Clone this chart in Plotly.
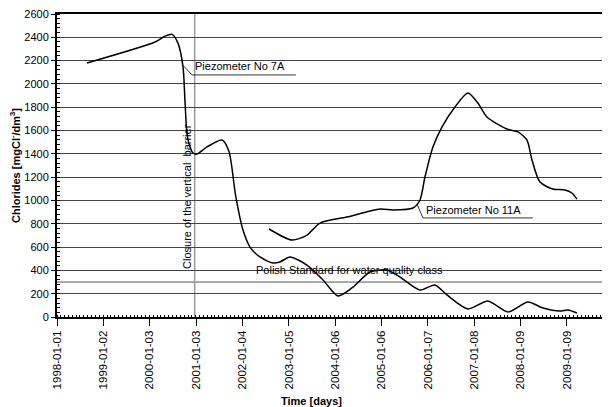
import plotly.graph_objects as go

# ---- data ----
dates_7a = ["1998-08-26", "2000-02-14", "2000-05-03", "2000-06-27", "2000-08-13", "2000-09-22",
            "2000-10-07", "2000-10-23", "2000-11-16", "2000-12-10", "2001-01-10", "2001-03-30",
            "2001-07-27", "2001-09-20", "2001-11-10", "2002-01-05",
            "2002-03-05", "2002-05-22", "2002-09-02", "2002-10-27", "2003-01-14", "2003-05-28",
            "2003-10-02", "2004-01-28", "2004-05-26", "2004-10-07", "2005-02-18", "2005-06-01",
            "2005-11-05", "2006-03-04", "2006-06-07", "2006-11-19", "2007-04-26", "2007-10-01",
            "2008-03-07", "2008-07-04", "2008-11-15", "2009-01-17", "2009-03-29"]
vals_7a = [2180, 2360, 2410, 2425, 2350, 2145,
           1862, 1579, 1459, 1407, 1398, 1459,
           1519, 1420, 1050, 760,
           600, 515, 463, 472, 515, 446,
           318, 180, 257, 386, 403, 343,
           232, 275, 189, 69, 137, 43,
           129, 77, 51, 60, 34]

dates_11a = ["2002-08-02", "2003-01-30", "2003-05-29", "2003-09-08", "2004-04-08", "2004-12-25",
             "2005-04-06", "2005-09-11", "2005-11-06", "2005-12-15", "2006-02-16", "2006-04-28",
             "2006-08-09", "2006-11-19", "2007-02-06", "2007-04-18", "2007-09-23", "2007-12-19",
             "2008-02-28", "2008-04-08", "2008-06-10", "2008-09-20", "2008-12-24", "2009-02-17",
             "2009-03-29"]
vals_11a = [755, 660, 703, 806, 858, 926,
            918, 935, 1004, 1201, 1459, 1630,
            1802, 1922, 1836, 1716, 1613, 1588,
            1519, 1347, 1158, 1098, 1090, 1064,
            1012]

polish_standard = 300
closure_date = "2000-12-23"

tick_dates = ["1998-01-01", "1999-01-02", "2000-01-03", "2001-01-03", "2002-01-04", "2003-01-05",
              "2004-01-06", "2005-01-06", "2006-01-07", "2007-01-08", "2008-01-09", "2009-01-09"]
tick_labels = tick_dates

FONT = "Liberation Sans, Arial, sans-serif"

fig = go.Figure()
fig.add_trace(go.Scatter(x=dates_7a, y=vals_7a, mode="lines",
                         line=dict(color="black", width=1.5, shape="spline", smoothing=0.7),
                         name="Piezometer No 7A", showlegend=False, hoverinfo="skip"))
fig.add_trace(go.Scatter(x=dates_11a, y=vals_11a, mode="lines",
                         line=dict(color="black", width=1.5, shape="spline", smoothing=0.7),
                         name="Piezometer No 11A", showlegend=False, hoverinfo="skip"))

# standard line and closure line
fig.add_shape(type="line", xref="paper", x0=0, x1=1, yref="y", y0=polish_standard, y1=polish_standard,
              line=dict(color="#555555", width=1), layer="below")
fig.add_shape(type="line", xref="x", x0=closure_date, x1=closure_date, yref="paper", y0=0, y1=1,
              line=dict(color="#999999", width=1.5), layer="below")

# label connectors
fig.add_shape(type="line", x0="2000-09-22", y0=2160, x1="2000-12-02", y1=2077,
              line=dict(color="black", width=0.8))
fig.add_shape(type="line", x0="2000-12-02", y0=2077, x1="2003-03-02", y1=2077,
              line=dict(color="black", width=0.8))
fig.add_shape(type="line", x0="2005-10-13", y0=970, x1="2005-11-29", y1=850,
              line=dict(color="black", width=0.8))
fig.add_shape(type="line", x0="2005-11-29", y0=850, x1="2008-04-15", y1=850,
              line=dict(color="black", width=0.8))

fig.add_annotation(x="2000-12-10", y=2150, text="Piezometer No 7A", showarrow=False,
                   xanchor="left", yanchor="middle", font=dict(family=FONT, size=11, color="black"))
fig.add_annotation(x="2005-12-07", y=918, text="Piezometer No 11A", showarrow=False,
                   xanchor="left", yanchor="middle", font=dict(family=FONT, size=11, color="black"))
fig.add_annotation(x="2004-05-02", y=403, text="Polish Standard for water quality class", showarrow=False,
                   xanchor="center", yanchor="middle", font=dict(family=FONT, size=11, color="black"))
fig.add_annotation(x="2000-10-23", y=1038, text="Closure of the vertical  barrier", showarrow=False,
                   textangle=-90, xanchor="center", yanchor="middle",
                   font=dict(family=FONT, size=11, color="black"))
fig.add_annotation(xref="paper", yref="paper", x=0.46, y=-0.277, text="<b>Time [days]</b>",
                   showarrow=False, xanchor="center", yanchor="middle",
                   font=dict(family=FONT, size=11, color="black"))

# the page body has an 8 px default margin; the figure is sized to fill the rest
fig.update_layout(
    width=602, height=399,
    margin=dict(l=49, r=0, t=6, b=90),
    paper_bgcolor="white", plot_bgcolor="white",
    font=dict(family=FONT, size=11, color="black"),
    showlegend=False,
    xaxis=dict(
        type="date", range=["1998-01-01", "2009-12-15"],
        tickmode="array", tickvals=tick_dates, ticktext=tick_labels, tickangle=-90,
        ticks="outside", ticklen=7, tickcolor="black",
        showgrid=False, zeroline=False,
        showline=True, linecolor="black", linewidth=2, mirror=True,
        minor=dict(dtick="M1", ticks="inside", ticklen=2, tickcolor="black", showgrid=False),
        tickfont=dict(family=FONT, size=11.5),
        ticklabeloverflow="allow",
        automargin=False,
    ),
    yaxis=dict(
        range=[0, 2600], tickmode="linear", tick0=0, dtick=200,
        ticks="outside", ticklen=4, tickcolor="black",
        showgrid=True, gridcolor="#444444", gridwidth=1, zeroline=False,
        showline=True, linecolor="black", linewidth=2,
        minor=dict(dtick=40, ticks="inside", ticklen=3, tickcolor="black", showgrid=False),
        title=dict(text="<b>Chlorides [mgCl<sup>-</sup>/dm<sup>3</sup>]</b>", font=dict(family=FONT, size=11),
                   standoff=4),
        tickfont=dict(family=FONT, size=11),
        ticklabeloverflow="allow",
        automargin=False,
    ),
)

fig.write_html("out.html")
